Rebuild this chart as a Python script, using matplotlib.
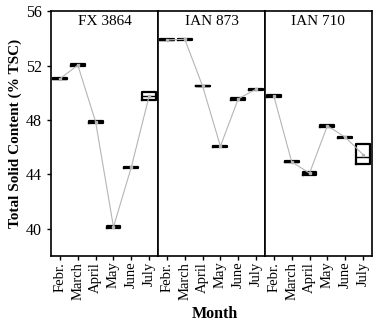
import numpy as np
import matplotlib
matplotlib.use("Agg")
import matplotlib.pyplot as plt

months = ["Febr.", "March", "April", "May", "June", "July"]
cultivars = ["FX 3864", "IAN 873", "IAN 710"]

# lower quartile, median, upper quartile, mean  (% TSC)
q1 = [
    [50.98, 51.98, 47.75, 40.08, 44.49, 49.46],
    [53.84, 53.89, 50.46, 46.03, 49.50, 50.22],
    [49.68, 44.89, 43.98, 47.50, 46.70, 44.73],
]
med = [
    [51.02, 52.03, 47.85, 40.14, 44.53, 49.75],
    [53.88, 53.93, 50.49, 46.07, 49.55, 50.26],
    [49.74, 44.92, 44.09, 47.57, 46.74, 45.29],
]
q3 = [
    [51.06, 52.08, 47.95, 40.20, 44.57, 50.04],
    [53.92, 53.97, 50.52, 46.10, 49.60, 50.30],
    [49.80, 44.96, 44.20, 47.63, 46.78, 46.27],
]
mean = [
    [51.02, 52.03, 47.85, 40.14, 44.53, 49.75],
    [53.88, 53.93, 50.49, 46.07, 49.55, 50.26],
    [49.74, 44.92, 44.09, 47.57, 46.74, 45.46],
]

plt.rcParams["font.family"] = "Liberation Serif"

fig, axes = plt.subplots(1, 3, figsize=(3.87, 3.25), dpi=100, sharey=True)
fig.subplots_adjust(left=0.132, right=0.961, top=0.966, bottom=0.212, wspace=0)

x = np.arange(len(months))
for i, ax in enumerate(axes):
    stats = []
    for j in range(len(months)):
        stats.append(dict(med=med[i][j], q1=q1[i][j], q3=q3[i][j],
                          whislo=q1[i][j], whishi=q3[i][j], fliers=[]))
    ax.plot(x, mean[i], color="#b5b5b5", lw=0.8, marker="s", ms=1.5, zorder=3)
    ax.bxp(stats, positions=x, widths=0.78, showcaps=False,
           boxprops=dict(color="black", lw=1.6),
           medianprops=dict(color="black", lw=1.0),
           whiskerprops=dict(color="black", lw=1.0))
    ax.set_xlim(-0.5, 5.5)
    ax.set_xticks(x)
    ax.set_xticklabels(months, rotation=90, fontsize=10.5)
    ax.tick_params(axis="x", direction="out", length=3, width=1, pad=1)
    ax.text(0.5, 0.985, cultivars[i], transform=ax.transAxes, ha="center",
            va="top", fontsize=11)
    for s in ax.spines.values():
        s.set_linewidth(1.2)
    if i > 0:
        ax.tick_params(axis="y", left=False)

axes[0].set_ylim(38, 56)
axes[0].set_yticks([40, 44, 48, 52, 56])
axes[0].tick_params(axis="y", direction="out", length=3, width=1, labelsize=11.5)
axes[0].set_ylabel("Total Solid Content (% TSC)", fontsize=11, fontweight="bold",
                   labelpad=3)
fig.text(0.555, 0.02, "Month", ha="center", fontsize=11.5, fontweight="bold")

plt.savefig("out.png", dpi=100)
